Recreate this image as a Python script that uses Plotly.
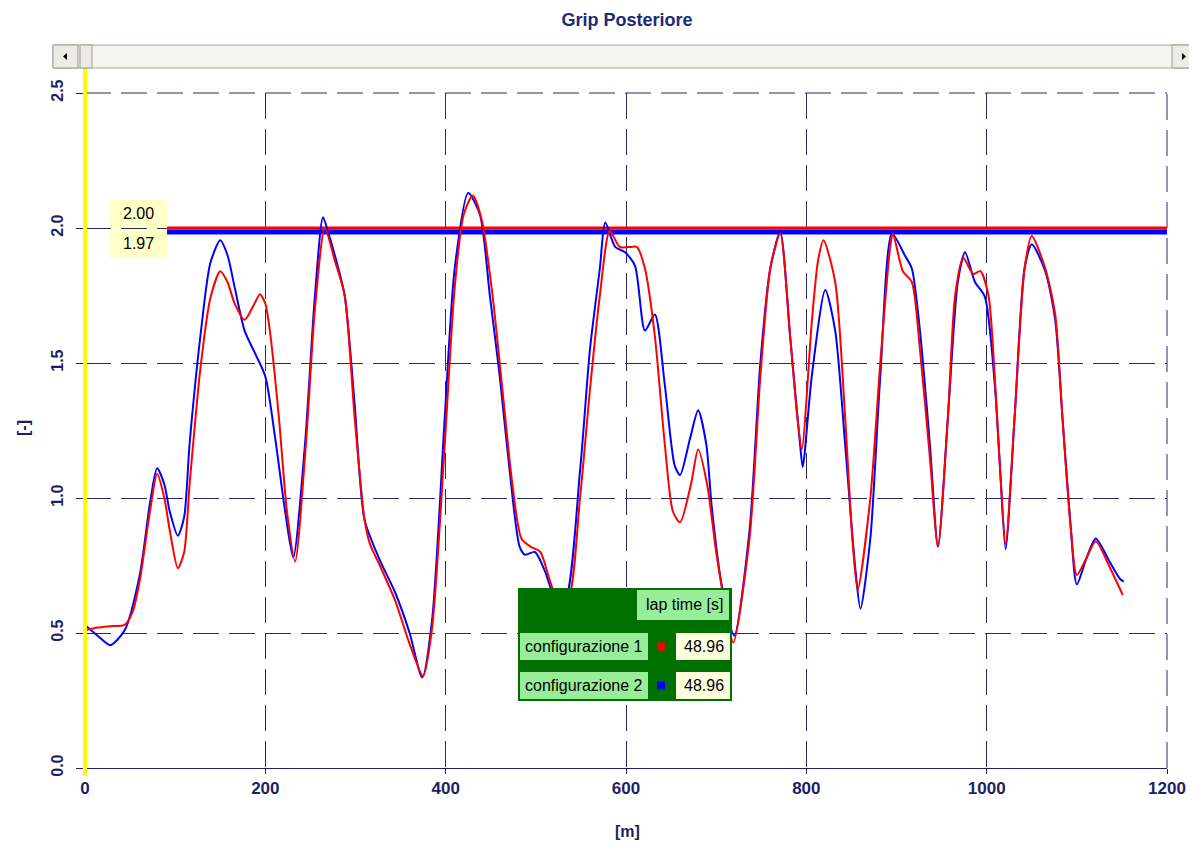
import plotly.graph_objects as go

# ---------------- data ----------------
dist_cfg2 = [0, 14, 28, 44, 61, 72, 80, 88, 94, 103, 110, 116, 128, 139, 150, 158, 166, 177, 188, 200,
             211, 222, 231, 244, 255, 264, 270, 277, 288, 299, 310, 327, 344, 360, 374, 385, 399, 410,
             425, 438, 449, 460, 471, 482, 488, 499, 510, 519, 532, 549, 560, 571, 577, 588, 599, 610,
             621, 632, 643, 654, 660, 671, 680, 689, 695, 706, 720, 737, 749, 760, 771, 782, 793, 796,
             806, 821, 832, 843, 854, 860, 871, 882, 895, 909, 917, 926, 937, 946, 957, 968, 976, 987,
             998, 1009, 1015, 1021, 1031, 1042, 1050, 1065, 1076, 1084, 1093, 1100, 1111, 1121, 1137,
             1148, 1152]
grip_cfg2 = [0.53, 0.49, 0.455, 0.51, 0.72, 0.98, 1.11, 1.05, 0.95, 0.86, 0.93, 1.2, 1.6, 1.87, 1.955,
             1.9, 1.78, 1.62, 1.54, 1.45, 1.22, 0.95, 0.78, 1.2, 1.75, 2.04, 1.98, 1.9, 1.75, 1.35, 0.92,
             0.77, 0.65, 0.5, 0.335, 0.55, 1.3, 1.85, 2.13, 2.05, 1.75, 1.45, 1.1, 0.82, 0.79, 0.8, 0.73,
             0.65, 0.62, 1.1, 1.55, 1.85, 2.02, 1.93, 1.91, 1.86, 1.62, 1.68, 1.42, 1.12, 1.085, 1.22,
             1.325, 1.2, 0.97, 0.68, 0.49, 0.88, 1.5, 1.85, 1.985, 1.6, 1.2, 1.115, 1.45, 1.77, 1.62,
             1.2, 0.75, 0.59, 0.85, 1.45, 1.98, 1.9, 1.85, 1.62, 1.2, 0.82, 1.3, 1.8, 1.91, 1.8, 1.745,
             1.42, 1.1, 0.81, 1.3, 1.85, 1.94, 1.84, 1.66, 1.3, 0.9, 0.68, 0.78, 0.85, 0.76, 0.7, 0.69]

dist_cfg1 = [0, 14, 28, 44, 53, 61, 72, 80, 88, 94, 103, 110, 116, 128, 139, 150, 158, 166, 177, 188,
             194, 200, 205, 215, 224, 233, 245, 255, 266, 277, 288, 299, 310, 316, 327, 344, 360, 375,
             385, 399, 410, 420, 430, 440, 452, 463, 474, 484, 494, 505, 515, 522, 535, 549, 560, 571,
             582, 593, 605, 612, 621, 632, 643, 652, 660, 672, 680, 690, 700, 710, 719, 737, 749, 760,
             771, 782, 790, 795, 806, 813, 819, 832, 843, 851, 857, 871, 882, 893, 896, 907, 917, 926,
             937, 946, 957, 965, 974, 985, 993, 1002, 1009, 1015, 1021, 1031, 1042, 1050, 1065, 1076,
             1084, 1093, 1100, 1111, 1121, 1137, 1151]
grip_cfg1 = [0.51, 0.52, 0.525, 0.53, 0.58, 0.7, 0.95, 1.09, 1.0, 0.88, 0.74, 0.8, 1.05, 1.48, 1.74,
             1.84, 1.8, 1.72, 1.66, 1.72, 1.755, 1.72, 1.62, 1.3, 0.95, 0.765, 1.2, 1.7, 2.0, 1.88, 1.75,
             1.3, 0.92, 0.83, 0.75, 0.62, 0.46, 0.34, 0.52, 1.2, 1.78, 2.05, 2.12, 2.03, 1.75, 1.4,
             1.05, 0.85, 0.82, 0.8, 0.7, 0.64, 0.62, 1.0, 1.4, 1.75, 1.99, 1.93, 1.93, 1.93, 1.85, 1.6,
             1.2, 0.95, 0.91, 1.05, 1.18, 1.05, 0.8, 0.6, 0.465, 0.85, 1.45, 1.85, 1.98, 1.6, 1.3,
             1.18, 1.65, 1.88, 1.955, 1.8, 1.3, 0.85, 0.66, 1.0, 1.5, 1.93, 1.98, 1.84, 1.8, 1.55,
             1.15, 0.82, 1.3, 1.75, 1.89, 1.83, 1.84, 1.75, 1.45, 1.1, 0.83, 1.3, 1.85, 1.97, 1.85,
             1.68, 1.3, 0.9, 0.715, 0.78, 0.84, 0.74, 0.64]

series_names = ["configurazione 1", "configurazione 2"]
lap_times = ["48.96", "48.96"]
limit_labels = ["2.00", "1.97"]
limit_lines_y = [2.00, 1.985]
limit_x = [91, 1200]

x_ticks = [0, 200, 400, 600, 800, 1000, 1200]
y_ticks = [0.0, 0.5, 1.0, 1.5, 2.0, 2.5]

# ---------------- layout helpers (screen pixel targets) ----------------
OFF = 8                      # page body margin
W, H = 1197 - OFF, 847 - OFF
SL, SR, ST, SB = 85, 1167, 93, 768   # plot area on screen


def px(x):
    return (x - SL) / (SR - SL)


def py(y):
    return (SB - y) / (SB - ST)


NAVY = "#1e1e64"
GRID = "#2a2a66"
DASH = "26px,10px"

fig = go.Figure()

# limit lines
fig.add_trace(go.Scatter(x=limit_x, y=[limit_lines_y[0]] * 2, mode="lines",
                         line=dict(color="#ff0000", width=3), hoverinfo="skip", showlegend=False))
fig.add_trace(go.Scatter(x=limit_x, y=[limit_lines_y[1]] * 2, mode="lines",
                         line=dict(color="#0000ff", width=5), hoverinfo="skip", showlegend=False))

fig.add_trace(go.Scatter(x=dist_cfg2, y=grip_cfg2, mode="lines", name=series_names[1],
                         line=dict(color="#0000ff", width=2, shape="spline", smoothing=0.7),
                         showlegend=False))
fig.add_trace(go.Scatter(x=dist_cfg1, y=grip_cfg1, mode="lines", name=series_names[0],
                         line=dict(color="#ff0000", width=2, shape="spline", smoothing=0.7),
                         showlegend=False))

shapes = []
ann = []
TXT = dict(family="Liberation Sans", size=16, color="#000000")

# frame gridlines at top (2.5) and right (1200)
shapes.append(dict(type="line", xref="paper", yref="paper", x0=0, x1=1, y0=1, y1=1,
                   line=dict(color=GRID, width=1, dash=DASH), layer="below"))
shapes.append(dict(type="line", xref="paper", yref="paper", x0=1, x1=1, y0=0, y1=1,
                   line=dict(color=GRID, width=1, dash=DASH), layer="below"))

# cursor (yellow) line at x=0
shapes.append(dict(type="line", xref="paper", yref="paper", x0=0, x1=0, y0=py(776), y1=py(68),
                   line=dict(color="#ffff00", width=4), layer="above"))

# limit label box
shapes.append(dict(type="rect", xref="paper", yref="paper", x0=px(110), x1=px(167),
                   y0=py(258), y1=py(200), fillcolor="#ffffc8", line=dict(width=0), layer="below"))
ann.append(dict(xref="paper", yref="paper", x=px(138), y=py(213), xanchor="center", yanchor="middle",
                text=limit_labels[0], showarrow=False, font=TXT))
ann.append(dict(xref="paper", yref="paper", x=px(138), y=py(243), xanchor="center", yanchor="middle",
                text=limit_labels[1], showarrow=False, font=TXT))

# scrollbar
shapes.append(dict(type="rect", xref="paper", yref="paper", x0=px(53), x1=px(1195),
                   y0=py(68), y1=py(45), fillcolor="#f4f4ee", line=dict(color="#a8a8a0", width=1),
                   layer="above"))
for a, b in [(53, 78), (80, 92), (1172, 1195)]:
    shapes.append(dict(type="rect", xref="paper", yref="paper", x0=px(a), x1=px(b),
                       y0=py(68), y1=py(45), fillcolor="#ecebe4",
                       line=dict(color="#9a9a92", width=1), layer="above"))
shapes.append(dict(type="path", xref="paper", yref="paper",
                   path=f"M {px(63)} {py(56.5)} L {px(67)} {py(53)} L {px(67)} {py(60)} Z",
                   fillcolor="#000000", line=dict(width=0), layer="above"))
shapes.append(dict(type="path", xref="paper", yref="paper",
                   path=f"M {px(1186)} {py(56.5)} L {px(1182)} {py(53)} L {px(1182)} {py(60)} Z",
                   fillcolor="#000000", line=dict(width=0), layer="above"))

# lap-time legend table
DG, LG, LY = "#007000", "#98ee98", "#ffffe0"
shapes.append(dict(type="rect", xref="paper", yref="paper", x0=px(518), x1=px(732),
                   y0=py(701), y1=py(588), fillcolor=DG, line=dict(width=0), layer="above"))
shapes.append(dict(type="rect", xref="paper", yref="paper", x0=px(637), x1=px(729),
                   y0=py(620), y1=py(590), fillcolor=LG, line=dict(width=0), layer="above"))
ann.append(dict(xref="paper", yref="paper", x=px(684), y=py(604), xanchor="center", yanchor="middle",
                text="lap time [s]", showarrow=False, font=TXT))
row_y = [(633, 660), (672, 699)]
sq_col = ["#ff0000", "#0000ff"]
for i in range(2):
    y0, y1 = row_y[i]
    shapes.append(dict(type="rect", xref="paper", yref="paper", x0=px(520), x1=px(648),
                       y0=py(y1), y1=py(y0), fillcolor=LG, line=dict(width=0), layer="above"))
    shapes.append(dict(type="rect", xref="paper", yref="paper", x0=px(676), x1=px(730),
                       y0=py(y1), y1=py(y0), fillcolor=LY, line=dict(width=0), layer="above"))
    cy = (y0 + y1) / 2
    shapes.append(dict(type="rect", xref="paper", yref="paper", x0=px(657), x1=px(665),
                       y0=py(cy + 4), y1=py(cy - 4), fillcolor=sq_col[i], line=dict(width=0),
                       layer="above"))
    ann.append(dict(xref="paper", yref="paper", x=px(584), y=py(cy), xanchor="center",
                    yanchor="middle", text=series_names[i], showarrow=False, font=TXT))
    ann.append(dict(xref="paper", yref="paper", x=px(704), y=py(cy), xanchor="center",
                    yanchor="middle", text=lap_times[i], showarrow=False, font=TXT))

# axis titles
ann.append(dict(xref="paper", yref="paper", x=px(627), y=py(831), xanchor="center", yanchor="middle",
                text="<b>[m]</b>", showarrow=False,
                font=dict(family="Liberation Sans", size=16, color=NAVY)))
ann.append(dict(xref="paper", yref="paper", x=px(23), y=py(428), xanchor="center", yanchor="middle",
                text="<b>[-]</b>", showarrow=False, textangle=-90,
                font=dict(family="Liberation Sans", size=16, color=NAVY)))

fig.update_layout(
    width=W, height=H,
    margin=dict(l=SL - OFF, r=W - (SR - OFF), t=ST - OFF, b=H - (SB - OFF)),
    paper_bgcolor="white", plot_bgcolor="white",
    title=dict(text="<b>Grip Posteriore</b>", x=px(627), xref="paper", xanchor="center",
               y=1 - (20 - OFF) / H, yref="container", yanchor="middle",
               font=dict(family="Liberation Sans", size=18, color="#1c2a78")),
    shapes=shapes, annotations=ann, showlegend=False,
)
fig.update_xaxes(range=[0, 1200], tickvals=x_ticks, showgrid=True, gridcolor=GRID, gridwidth=1,
                 griddash=DASH, zeroline=False, showline=True, linecolor=NAVY, linewidth=1,
                 ticks="outside", ticklen=5, tickcolor=NAVY,
                 tickfont=dict(family="Liberation Sans Narrow, Liberation Sans", size=17, color=NAVY,
                               weight="bold"))
fig.update_yaxes(range=[0, 2.5], tickvals=y_ticks, tickformat=".1f", tickangle=-90, showgrid=True,
                 gridcolor=GRID, gridwidth=1, griddash=DASH, zeroline=False, showline=False,
                 ticks="outside", ticklen=8, tickcolor=NAVY, ticklabelstandoff=7,
                 tickfont=dict(family="Liberation Sans", size=16, color=NAVY, weight="bold"))

fig.write_html("out.html")
